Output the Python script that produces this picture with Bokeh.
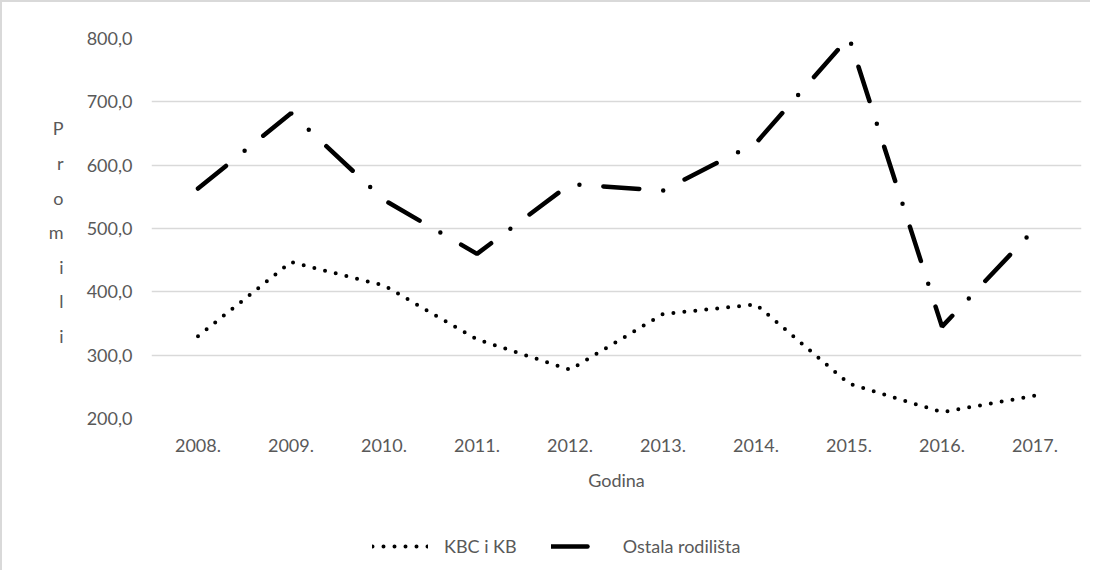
from bokeh.plotting import figure
from bokeh.models import Range1d, FixedTicker, Legend, LegendItem, LinearAxis
from bokeh.layouts import column
from bokeh.embed import file_html
from bokeh.resources import INLINE

years = ["2008.", "2009.", "2010.", "2011.", "2012.", "2013.", "2014.", "2015.", "2016.", "2017."]
kbc = [330, 447, 410, 325, 277, 365, 380, 255, 210, 236]
ostala = [563, 682, 545, 460, 570, 560, 635, 802, 345, 500]
series_names = ["KBC i KB", "Ostala rodilišta"]
y_ticks = [200, 300, 400, 500, 600, 700, 800]
y_tick_labels = {t: f"{t:.1f}".replace(".", ",") for t in y_ticks}
y_title = "Promili"
x_title = "Godina"

FONT = "Lato"
TXT = "#595959"
GRID = "#d9d9d9"
STYLE1 = dict(line_color="black", line_width=4, line_dash="0 11", line_cap="round")
STYLE2 = dict(line_color="black", line_width=4.5, line_dash="36 24 0 24", line_cap="round")

p = figure(x_range=years, y_range=Range1d(200, 800), width=1088, height=508,
           output_backend="svg", toolbar_location=None,
           min_border_left=149, min_border_right=9, min_border_top=36, min_border_bottom=92)
p.outline_line_color = None

p.line(years, kbc, **STYLE1)
p.line(years, ostala, **STYLE2)

p.xgrid.grid_line_color = None
p.ygrid.grid_line_color = GRID
p.ygrid.grid_line_width = 1.5

p.yaxis.ticker = FixedTicker(ticks=y_ticks)
p.yaxis.major_label_overrides = y_tick_labels

# vertical, letter-by-letter y title (upright letters stacked)
title_pos = [657.9 - i * 54.5 for i in range(len(y_title))]
title_axis = LinearAxis(ticker=FixedTicker(ticks=title_pos),
                        major_label_overrides={v: ch for v, ch in zip(title_pos, y_title)})
p.add_layout(title_axis, "left")

for ax in (p.xaxis[0], p.yaxis[0], title_axis):
    ax.axis_line_color = None
    ax.major_tick_line_color = None
    ax.minor_tick_line_color = None
    ax.major_label_text_font = FONT
    ax.major_label_text_font_size = "18px"
    ax.major_label_text_color = TXT
    ax.axis_label_text_font = FONT
    ax.axis_label_text_font_size = "18px"
    ax.axis_label_text_font_style = "normal"
    ax.axis_label_text_color = TXT
p.yaxis[0].major_label_standoff = 13
title_axis.major_label_standoff = 14
p.xaxis[0].major_label_standoff = 14

p.xaxis.axis_label = x_title
p.xaxis.axis_label_standoff = 14

# legend strip below the chart
lg = figure(x_range=years, y_range=Range1d(0, 1), width=1088, height=60,
            output_backend="svg", toolbar_location=None,
            x_axis_location=None, y_axis_location=None,
            min_border_left=0, min_border_right=0, min_border_top=0, min_border_bottom=0)
lg.outline_line_color = None
lg.grid.grid_line_color = None
k1 = lg.line(years, kbc, **STYLE1)
k2 = lg.line(years, ostala, **STYLE2)

legend = Legend(items=[LegendItem(label=series_names[0], renderers=[k1]),
                       LegendItem(label=series_names[1], renderers=[k2])],
                orientation="horizontal", location=(221, 13))
legend.border_line_color = None
legend.background_fill_alpha = 0
legend.padding = 0
legend.margin = 0
legend.glyph_width = 56
legend.glyph_height = 20
legend.label_standoff = 16
legend.spacing = 34
legend.label_text_font = FONT
legend.label_text_font_size = "18px"
legend.label_text_color = TXT
lg.add_layout(legend)

layout = column(p, lg, spacing=0)
layout.styles = {"border-left": "2px solid #d9d9d9", "border-top": "2px solid #d9d9d9"}
open("out.html", "w").write(file_html(layout, INLINE))
